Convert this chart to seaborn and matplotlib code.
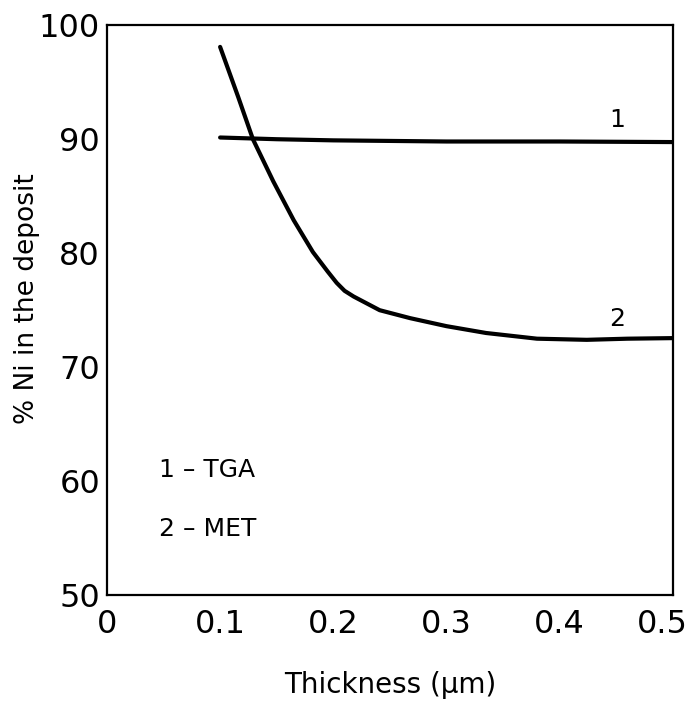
import matplotlib
matplotlib.use("Agg")
import matplotlib.pyplot as plt
import matplotlib.transforms as mtransforms
import seaborn as sns
import pandas as pd

# Data
x_tga = [0.10, 0.15, 0.20, 0.30, 0.40, 0.50]
y_tga = [90.15, 90.0, 89.9, 89.8, 89.8, 89.75]

x_met = [0.100, 0.116, 0.129, 0.147, 0.165, 0.182, 0.195, 0.203, 0.210, 0.218, 0.241, 0.268,
         0.300, 0.335, 0.380, 0.424, 0.460, 0.500]
y_met = [98.1, 93.7, 90.0, 86.3, 82.9, 80.1, 78.4, 77.4, 76.7, 76.2, 75.0, 74.3,
         73.6, 73.0, 72.5, 72.4, 72.5, 72.55]

x_ticks = [0, 0.1, 0.2, 0.3, 0.4, 0.5]
x_ticklabels = ["0", "0.1", "0.2", "0.3", "0.4", "0.5"]
y_ticks = [50, 60, 70, 80, 90, 100]
y_ticklabels = ["50", "60", "70", "80", "90", "100"]

series_names = ["1", "2"]
legend_lines = ["1 – TGA", "2 – MET"]

df = pd.concat([
    pd.DataFrame({"x": x_tga, "y": y_tga, "s": series_names[0]}),
    pd.DataFrame({"x": x_met, "y": y_met, "s": series_names[1]}),
])

sns.set_theme(style="white")
plt.rcParams['font.family'] = ['DejaVu Sans']
plt.rcParams['text.color'] = 'black'
plt.rcParams['axes.labelcolor'] = 'black'

fig = plt.figure(figsize=(6.9, 7.01), dpi=100)
ax = fig.add_axes([0.155, 0.151, 0.820, 0.813])

sns.lineplot(data=df, x="x", y="y", hue="s", palette=["black", "black"],
             linewidth=3.0, legend=False, ax=ax, sort=False)
for ln in ax.lines:
    ln.set_solid_joinstyle("round")
    ln.set_solid_capstyle("round")

ax.set_xlim(0, 0.5)
ax.set_ylim(50, 100)
ax.set_xticks(x_ticks)
ax.set_xticklabels(x_ticklabels)
ax.set_yticks(y_ticks)
ax.set_yticklabels(y_ticklabels)

ax.tick_params(axis="both", direction="in", length=7, width=1.5, colors="black",
               labelsize=23)
ax.tick_params(axis="x", pad=10)
ax.tick_params(axis="y", pad=5)
# keep the last x label inside the figure, as in the reference
last = ax.get_xticklabels()[-1]
last.set_transform(last.get_transform() + mtransforms.ScaledTranslation(-10/100, 0, fig.dpi_scale_trans))

for sp in ax.spines.values():
    sp.set_visible(True)
    sp.set_color("black")
    sp.set_linewidth(1.6)

ax.set_xlabel("Thickness (μm)", fontsize=20, labelpad=22)
ax.set_ylabel("% Ni in the deposit", fontsize=19)
ax.yaxis.set_label_coords(-0.118, 0.52)

ax.text(0.451, 90.6, series_names[0], fontsize=18, ha="center", va="bottom")
ax.text(0.451, 73.2, series_names[1], fontsize=18, ha="center", va="bottom")
ax.text(0.046, 61.0, legend_lines[0], fontsize=18, ha="left", va="center")
ax.text(0.046, 55.8, legend_lines[1], fontsize=18, ha="left", va="center")

fig.savefig("out.png", dpi=100, facecolor="white")
